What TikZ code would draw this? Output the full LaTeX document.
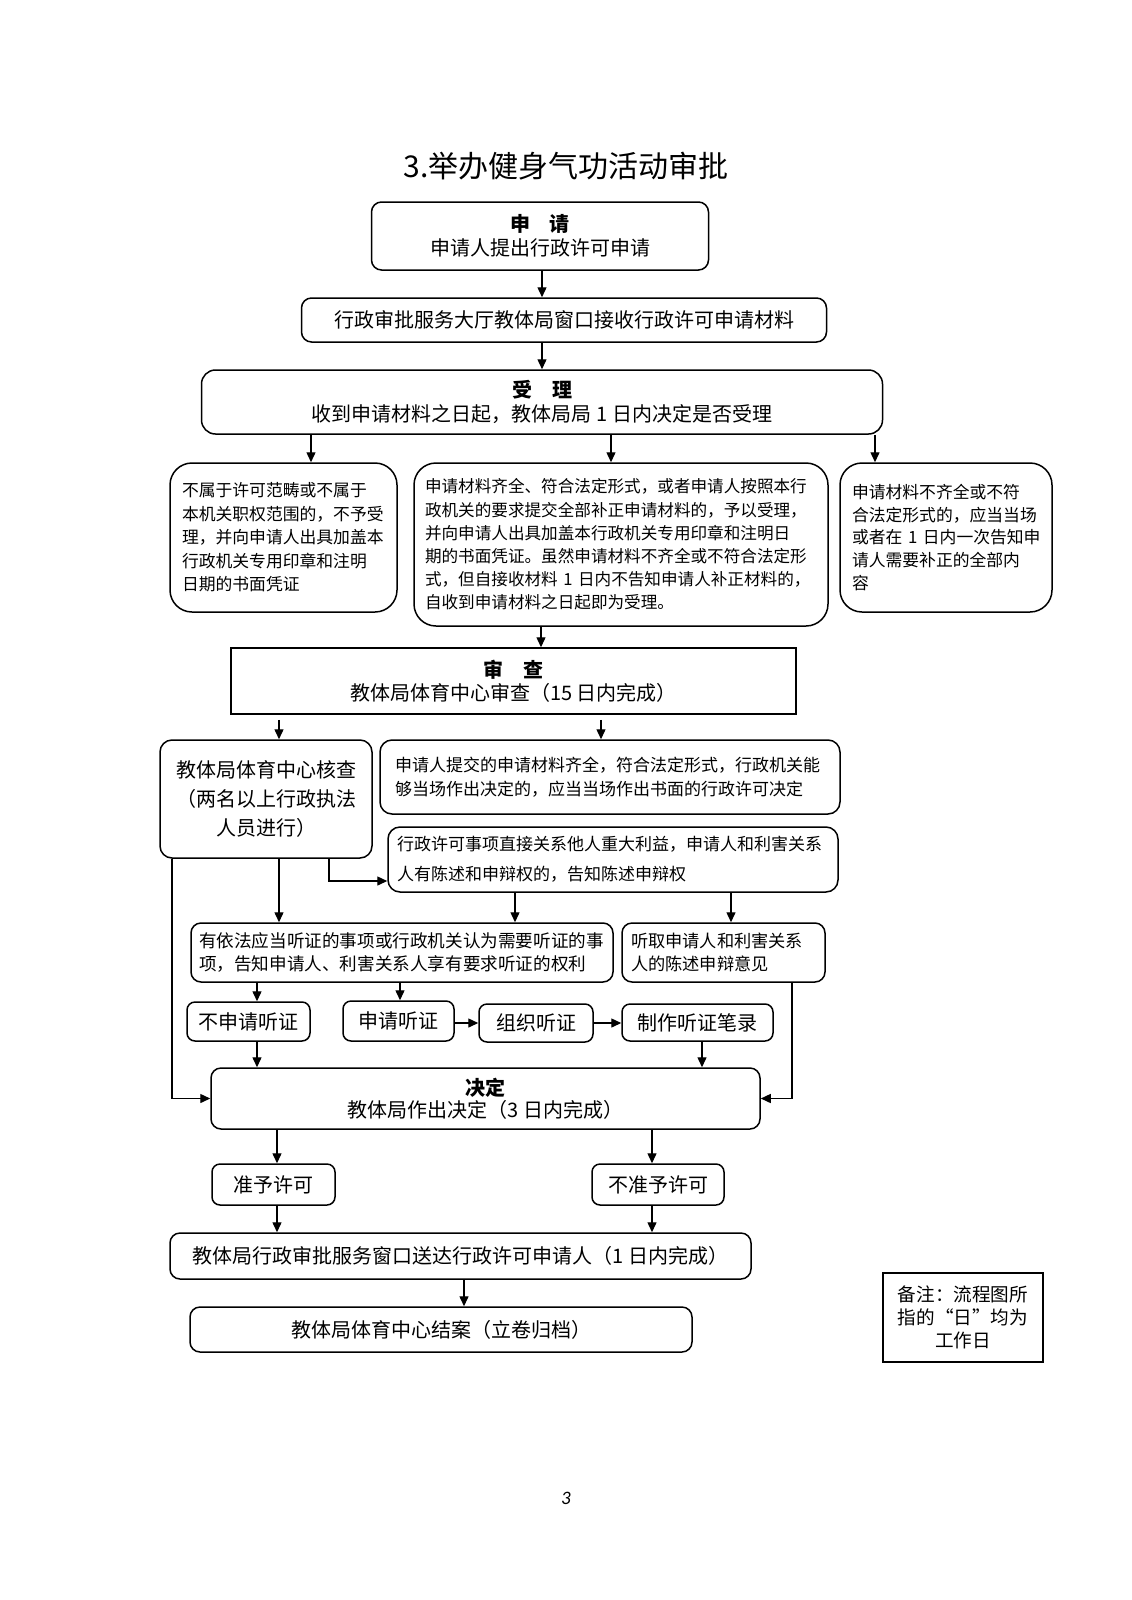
\documentclass[tikz,border=0pt]{standalone}
\usepackage{fontspec}
\setmainfont{Noto Sans CJK SC}
\newfontfamily\pgnumfont{Carlito}
\usetikzlibrary{arrows.meta}
\begin{document}
\begin{tikzpicture}[x=0.5pt,y=-0.5pt,
  box/.style={draw, line width=0.75pt, rounded corners=5pt, inner sep=0pt, align=center},
  sz/.style 2 args={minimum width=#1*0.5pt, minimum height=#2*0.5pt},
  fs/.style 2 args={font=\fontsize{#1}{#2}\selectfont},
  tw/.style={text width=#1*0.5pt, align=left},
  arr/.style={line width=0.7pt, -{Triangle[length=5pt,width=4.5pt]}},
  ln/.style={line width=0.7pt}]
\useasboundingbox (0,0) rectangle (1131,1600);
\fill[white] (0,0) rectangle (1131,1600);

% title
\node (title) at (566,166) {\fontsize{15pt}{18pt}\selectfont 3.举办健身气功活动审批};

% boxes
\node[box, sz={337}{68}, fs={10pt}{12pt}] (b1) at (540,236) {{\bfseries 申\quad 请}\\申请人提出行政许可申请};
\node[box, sz={525}{44}, fs={10pt}{12pt}] (b2) at (564,320) {行政审批服务大厅教体局窗口接收行政许可申请材料};
\node[box, rounded corners=7pt, sz={681}{64}, fs={10pt}{12pt}] (b3) at (542,402) {{\bfseries 受\quad 理}\\收到申请材料之日起，教体局局 1 日内决定是否受理};

\node[box, rounded corners=11pt, sz={227}{149}, tw={203}, fs={8.4pt}{11.75pt}] (a4a) at (283.5,537.5) {不属于许可范畴或不属于\\本机关职权范围的，不予受\\理，并向申请人出具加盖本\\行政机关专用印章和注明\\日期的书面凭证};
\node[box, rounded corners=11pt, sz={414}{163}, tw={392}, fs={8.3pt}{11.6pt}] (a4b) at (621,544.5) {申请材料齐全、符合法定形式，或者申请人按照本行\\政机关的要求提交全部补正申请材料的，予以受理，\\并向申请人出具加盖本行政机关专用印章和注明日\\期的书面凭证。虽然申请材料不齐全或不符合法定形\\式，但自接收材料~1~日内不告知申请人补正材料的，\\自收到申请材料之日起即为受理。};
\node[box, rounded corners=11pt, sz={212}{149}, tw={188}, fs={8.4pt}{11.4pt}] (a4c) at (946,537.5) {申请材料不齐全或不符\\合法定形式的，应当当场\\或者在~1~日内一次告知申\\请人需要补正的全部内\\容};

\node[box, rounded corners=0pt, sz={565}{66}, fs={10pt}{11.5pt}] (b5) at (513.5,681) {{\bfseries 审\quad 查}\\教体局体育中心审查（15 日内完成）};

\node[box, rounded corners=6pt, sz={212}{118}, fs={10pt}{14.5pt}] (c6a) at (266,799) {教体局体育中心核查\\（两名以上行政执法\\人员进行）};
\node[box, rounded corners=6pt, sz={460}{74}, tw={430}, fs={8.5pt}{11.75pt}] (c6b) at (610,777) {申请人提交的申请材料齐全，符合法定形式，行政机关能\\够当场作出决定的，应当当场作出书面的行政许可决定};
\node[box, rounded corners=6pt, sz={450}{65}, tw={432}, fs={8.5pt}{15pt}] (c6c) at (613,859.5) {行政许可事项直接关系他人重大利益，申请人和利害关系\\人有陈述和申辩权的，告知陈述申辩权};

\node[box, sz={422}{59}, tw={406}, fs={8.8pt}{11.3pt}] (d7a) at (402,952.5) {有依法应当听证的事项或行政机关认为需要听证的事\\项，告知申请人、利害关系人享有要求听证的权利};
\node[box, sz={203}{59}, tw={185}, fs={8.6pt}{11.75pt}] (d7b) at (723.5,952.5) {听取申请人和利害关系\\人的陈述申辩意见};

\node[box, rounded corners=4pt, sz={123}{39}, fs={10pt}{12pt}] (f8a) at (248.5,1021.5) {不申请听证};
\node[box, rounded corners=4pt, sz={111}{40}, fs={10pt}{12pt}] (f8b) at (398.5,1021) {申请听证};
\node[box, rounded corners=4pt, sz={114}{38}, fs={10pt}{12pt}] (f8c) at (536,1023) {组织听证};
\node[box, rounded corners=4pt, sz={151}{37}, fs={10pt}{12pt}] (f8d) at (697.5,1022.5) {制作听证笔录};

\node[box, sz={549}{61}, fs={10pt}{11pt}] (e9) at (485.5,1098.5) {{\bfseries 决定}\\教体局作出决定（3 日内完成）};

\node[box, rounded corners=4pt, sz={123}{41}, fs={10pt}{12pt}] (g10a) at (273.5,1184.5) {准予许可};
\node[box, rounded corners=4pt, sz={132}{41}, fs={10pt}{12pt}] (g10b) at (658,1184.5) {不准予许可};

\node[box, sz={581}{46}, fs={10pt}{12pt}] (h11) at (460.5,1256) {教体局行政审批服务窗口送达行政许可申请人（1 日内完成）};
\node[box, sz={502}{45}, fs={10pt}{12pt}] (i12) at (441,1329.5) {教体局体育中心结案（立卷归档）};

\node[draw, line width=0.75pt, inner sep=0pt, align=center, sz={160}{89}, fs={9.3pt}{11.5pt}] (note) at (963,1317.5) {备注：流程图所\\指的“日”均为\\工作日};

\node (pg) at (566,1498) {\pgnumfont\itshape\fontsize{9.5pt}{11pt}\selectfont 3};

% column coordinates
\coordinate (xA) at (542,0);
\coordinate (x311) at (311,0);
\coordinate (x611) at (611,0);
\coordinate (x875) at (875,0);
\coordinate (x541) at (541,0);
\coordinate (x279) at (279,0);
\coordinate (x601) at (601,0);
\coordinate (e1) at (329,881);
\coordinate (x172) at (172,0);
\coordinate (x515) at (515,0);
\coordinate (x731) at (731,0);
\coordinate (x257) at (257,0);
\coordinate (x400) at (400,0);
\coordinate (x702) at (702,0);
\coordinate (x792) at (792,0);
\coordinate (x277) at (277,0);
\coordinate (x652) at (652,0);
\coordinate (x464) at (464,0);

% connectors
\draw[arr] (b1.south -| xA) -- (b2.north -| xA);
\draw[arr] (b2.south -| xA) -- (b3.north -| xA);
\draw[arr] (b3.south -| x311) -- (a4a.north -| x311);
\draw[arr] (b3.south -| x611) -- (a4b.north -| x611);
\draw[arr] (b3.south -| x875) -- (a4c.north -| x875);
\draw[arr] (a4b.south -| x541) -- (b5.north -| x541);
\draw[arr, shorten <=2.5pt] (b5.south -| x279) -- (c6a.north -| x279);
\draw[arr, shorten <=2.5pt] (b5.south -| x601) -- (c6b.north -| x601);
\draw[arr] (c6a.south -| e1) |- (c6c.west |- e1);
\draw[arr] (c6a.south -| x279) -- (d7a.north -| x279);
\draw[arr] (c6a.south -| x172) |- (e9.west);
\draw[arr] (c6c.south -| x515) -- (d7a.north -| x515);
\draw[arr] (c6c.south -| x731) -- (d7b.north -| x731);
\draw[arr] (d7a.south -| x257) -- (f8a.north -| x257);
\draw[arr] (d7a.south -| x400) -- (f8b.north -| x400);
\draw[arr] (f8b.east |- f8c) -- (f8c.west);
\draw[arr] (f8c.east) -- (f8d.west |- f8c.east);
\draw[arr] (f8a.south -| x257) -- (e9.north -| x257);
\draw[arr] (f8d.south -| x702) -- (e9.north -| x702);
\draw[arr] (d7b.south -| x792) |- (e9.east);
\draw[arr] (e9.south -| x277) -- (g10a.north -| x277);
\draw[arr] (e9.south -| x652) -- (g10b.north -| x652);
\draw[arr] (g10a.south -| x277) -- (h11.north -| x277);
\draw[arr] (g10b.south -| x652) -- (h11.north -| x652);
\draw[arr] (h11.south -| x464) -- (i12.north -| x464);
\end{tikzpicture}
\end{document}
